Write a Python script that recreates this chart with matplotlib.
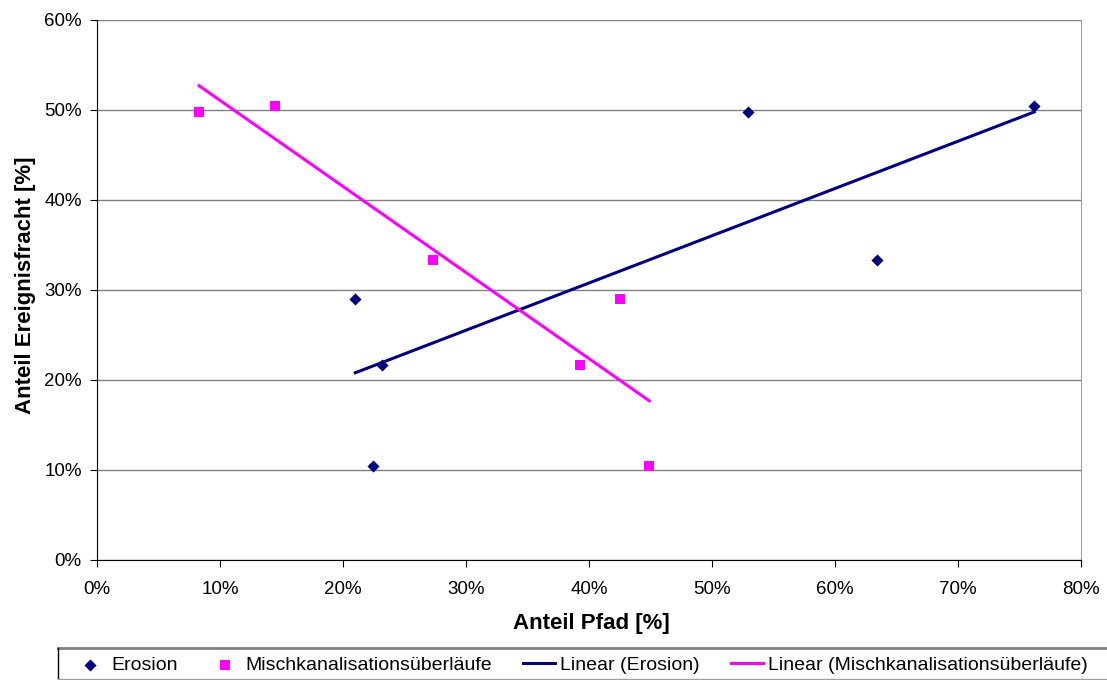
import matplotlib
matplotlib.use("Agg")
import matplotlib.pyplot as plt
import numpy as np
from matplotlib.ticker import FuncFormatter, MultipleLocator
from matplotlib.lines import Line2D

plt.rcParams['font.family'] = ['Liberation Sans', 'DejaVu Sans']

erosion_x = [21.0, 23.2, 22.4, 52.9, 63.4, 76.2]
erosion_y = [29.0, 21.7, 10.4, 49.8, 33.3, 50.5]
misch_x = [8.3, 14.5, 27.3, 42.5, 39.3, 44.9]
misch_y = [49.8, 50.5, 33.3, 29.0, 21.7, 10.4]

navy = '#000080'
magenta = '#FF00FF'
W, H = 1107, 680

fig = plt.figure(figsize=(W/100, H/100), dpi=100)
ax = fig.add_axes([97/W, 120/H, (1081-97)/W, 540/H])

ax.scatter(erosion_x, erosion_y, marker='D', s=38, color=navy, zorder=4, label='Erosion', linewidths=0)
ax.scatter(misch_x, misch_y, marker='s', s=62, color=magenta, zorder=4,
           label='Mischkanalisationsüberläufe', linewidths=0)

for xs, ys, c, lab in [(erosion_x, erosion_y, navy, 'Linear (Erosion)'),
                       (misch_x, misch_y, magenta, 'Linear (Mischkanalisationsüberläufe)')]:
    m, b = np.polyfit(xs, ys, 1)
    xx = np.array([min(xs), max(xs)])
    ax.plot(xx, m * xx + b, color=c, lw=2.2, zorder=3, label=lab)

ax.set_xlim(0, 80)
ax.set_ylim(0, 60)
ax.xaxis.set_major_locator(MultipleLocator(10))
ax.yaxis.set_major_locator(MultipleLocator(10))
fmt = FuncFormatter(lambda v, p: f"{v:.0f}%")
ax.xaxis.set_major_formatter(fmt)
ax.yaxis.set_major_formatter(fmt)
ax.tick_params(labelsize=13.5, length=5, color='black', direction='out')
ax.tick_params(axis='x', pad=10)
ax.tick_params(axis='y', pad=6)
ax.yaxis.grid(True, color='#808080', lw=1)
ax.set_axisbelow(True)
ax.spines['top'].set_visible(False)
ax.spines['right'].set_color('#A0A0A0')
ax.spines['left'].set_color('black')
ax.spines['bottom'].set_color('black')

ax.set_xlabel('Anteil Pfad [%]', fontsize=16, fontweight='bold')
ax.set_ylabel('Anteil Ereignisfracht [%]', fontsize=16, fontweight='bold')
ax.xaxis.set_label_coords(0.502, (560-613)/540)
ax.yaxis.set_label_coords((36-97)/984, 0.509)

handles, labels = ax.get_legend_handles_labels()
leg = fig.legend(handles, labels, loc='center left', bbox_to_anchor=(74/W, (H-665)/H),
                 ncol=4, fontsize=14, frameon=False, borderaxespad=0, borderpad=0,
                 handlelength=1.65, handletextpad=0.25, columnspacing=1.6, scatterpoints=1)

# legend frame
fig.add_artist(Line2D([58/W, 1.0], [(H-648)/H]*2, color='#808080', lw=2, transform=fig.transFigure))
fig.add_artist(Line2D([58/W]*2, [(H-648)/H, (H-679)/H], color='black', lw=1, transform=fig.transFigure))
fig.add_artist(Line2D([58/W, 1.0], [(H-679)/H]*2, color='#A0A0A0', lw=1, transform=fig.transFigure))

fig.savefig('out.png', dpi=100)
